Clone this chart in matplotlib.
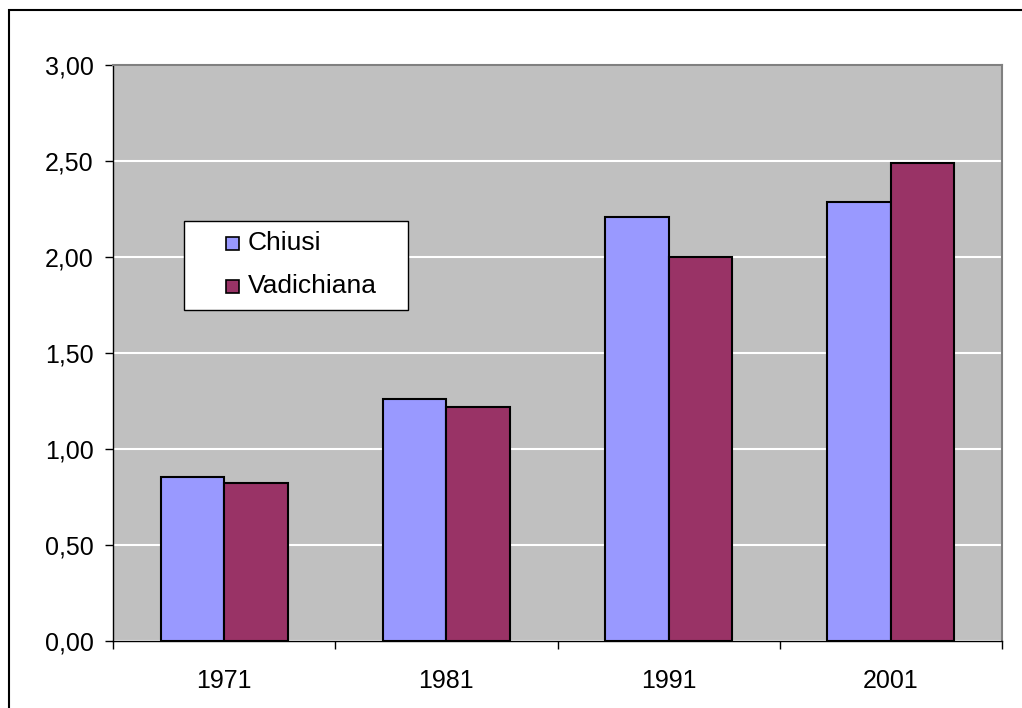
import numpy as np
import matplotlib.pyplot as plt
from matplotlib.patches import Rectangle
from matplotlib.ticker import FuncFormatter

plt.rcParams['font.family'] = ['Liberation Sans', 'DejaVu Sans']

anni = ["1971", "1981", "1991", "2001"]
chiusi = [0.855, 1.26, 2.21, 2.285]
vadichiana = [0.825, 1.22, 2.00, 2.49]
serie = ["Chiusi", "Vadichiana"]

col_chiusi = "#9999FF"
col_vad = "#993366"

W, H = 1022, 708
L, R, T, B = 113, 1002, 65, 641
fig = plt.figure(figsize=(W / 100, H / 100), dpi=100)
ax = fig.add_axes([L / W, (H - B) / H, (R - L) / W, (B - T) / H])
ax.set_facecolor("#C0C0C0")

# cornice esterna (tagliata a destra e in basso)
fig.patches.append(Rectangle((8.5 / W, -0.1), 1.2, (H - 10.5) / H + 0.1,
                             transform=fig.transFigure, fill=False,
                             edgecolor="black", linewidth=1.5))

x = np.arange(len(anni))
w = 1 / 3.5
ax.bar(x - w / 2, chiusi, w, color=col_chiusi, edgecolor="black", linewidth=1.5, zorder=3)
ax.bar(x + w / 2, vadichiana, w, color=col_vad, edgecolor="black", linewidth=1.5, zorder=3)

ax.set_xlim(-0.5, len(anni) - 0.5)
ax.set_ylim(0, 3)
ax.set_yticks(np.arange(0, 3.01, 0.5))
ax.yaxis.set_major_formatter(FuncFormatter(lambda v, p: f"{v:.2f}".replace(".", ",")))
ax.yaxis.grid(True, color="white", linewidth=1.5, zorder=1)

ax.set_xticks(np.arange(-0.5, len(anni), 1))
ax.set_xticklabels([])
ax.set_xticks(x, minor=True)
ax.set_xticklabels(anni, minor=True)
ax.tick_params(axis="x", which="minor", length=0, pad=20, labelsize=18)
ax.tick_params(axis="x", which="major", length=6, width=1, direction="out")
ax.tick_params(axis="y", length=6, width=1, direction="out", pad=8, labelsize=18)

for s in ["left", "bottom"]:
    ax.spines[s].set_color("black")
    ax.spines[s].set_linewidth(1)
for s in ["top", "right"]:
    ax.spines[s].set_color("#808080")
    ax.spines[s].set_linewidth(1.5)

# legenda disegnata a mano (coordinate in pixel -> frazione dell'asse)
def px(xp, yp):
    return (xp - L) / (R - L), (B - yp) / (B - T)

x0, y0 = px(184, 310)
x1, y1 = px(408, 221)
ax.add_patch(Rectangle((x0, y0), x1 - x0, y1 - y0, transform=ax.transAxes,
                       facecolor="white", edgecolor="black", linewidth=1, zorder=5))
for nome, col, yc in zip(serie, [col_chiusi, col_vad], [243.5, 286.5]):
    mx0, my0 = px(226, yc + 6.5)
    mx1, my1 = px(239, yc - 6.5)
    ax.add_patch(Rectangle((mx0, my0), mx1 - mx0, my1 - my0, transform=ax.transAxes,
                           facecolor=col, edgecolor="black", linewidth=1.2, zorder=6))
    tx, ty = px(248, yc)
    ax.text(tx, ty, nome, transform=ax.transAxes, fontsize=19,
            va="center", ha="left", zorder=6)

fig.savefig("out.png", dpi=100)
